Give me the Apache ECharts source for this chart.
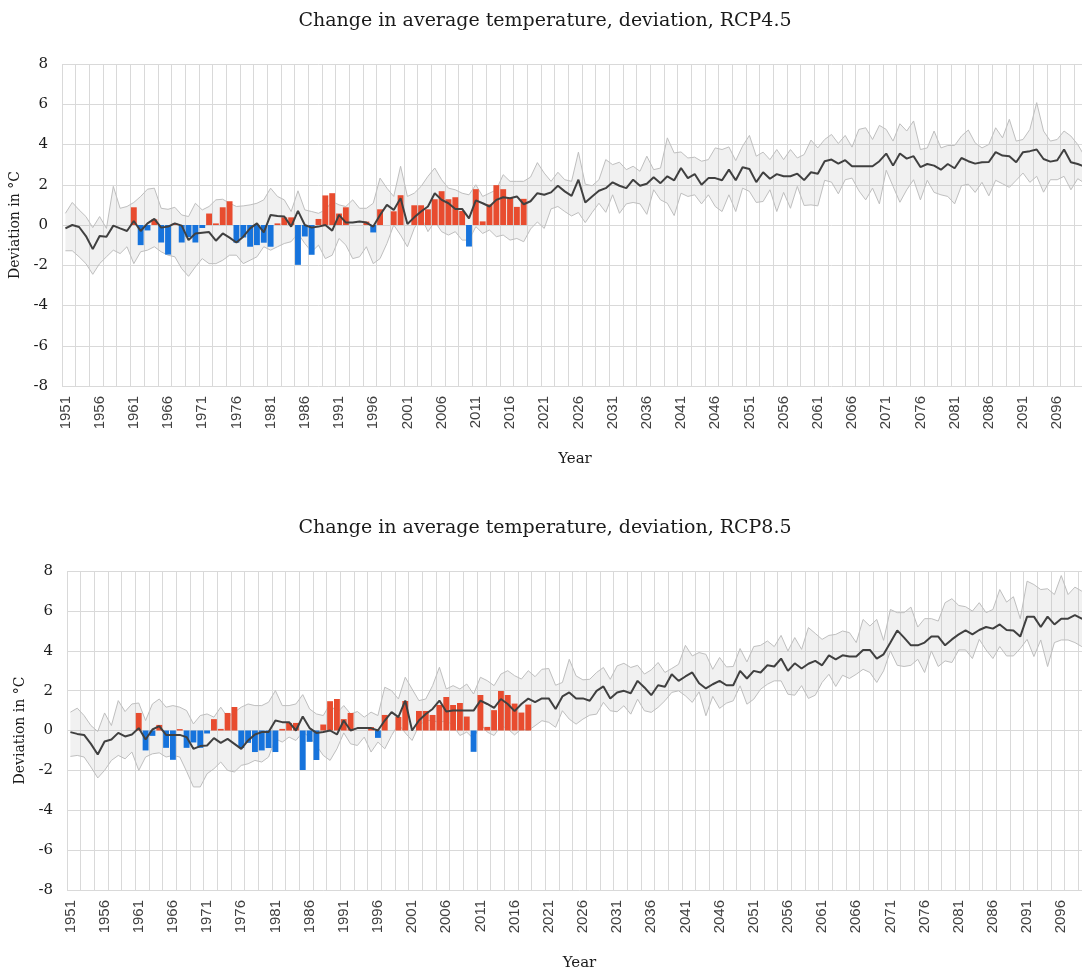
<!DOCTYPE html>
<html><head><meta charset="utf-8">
<script src="https://cdn.jsdelivr.net/npm/echarts@6/dist/echarts.min.js"></script>
<style>html,body{margin:0;padding:0;overflow:hidden;background:#fff}#c{width:1100px;height:972px}</style>
</head><body><div id="c"></div>
<script>
// Categories: years 1951..2100
const years = [];
for (let y = 1951; y <= 2100; y++) years.push(String(y));

// Observed deviation 1961..2018
const observedStart = 1961;
const observed = [0.88,-1.0,-0.27,0.28,-0.87,-1.47,0.07,-0.87,-0.6,-0.87,
  -0.15,0.57,0.08,0.88,1.18,-0.88,-0.62,-1.08,-1.0,-0.88,
  -1.08,0.08,0.38,0.38,-1.98,-0.57,-1.48,0.3,1.47,1.58,
  0.57,0.88,0,0,0.17,-0.37,0.78,0,0.68,1.48,
  0,0.98,0.98,0.78,1.28,1.68,1.28,1.38,0.7,-1.07,
  1.78,0.18,1.02,1.98,1.78,1.35,0.9,1.3];

// RCP4.5 model median, max, min (1951..2100)
const rcp45Mean = [-0.17,0,-0.1,-0.55,-1.2,-0.55,-0.58,-0.03,-0.17,-0.3,
  0.2,-0.3,0.08,0.3,-0.13,-0.08,0.08,-0.03,-0.75,-0.42,
  -0.38,-0.35,-0.78,-0.42,-0.63,-0.87,-0.58,-0.17,0.08,-0.37,
  0.5,0.45,0.42,-0.08,0.7,0,-0.13,-0.08,0,-0.28,
  0.5,0.12,0.12,0.17,0.12,-0.08,0.5,1.0,0.75,1.33,
  0.05,0.38,0.67,0.92,1.58,1.25,1.08,0.8,0.8,0.33,
  1.22,1.08,0.92,1.25,1.38,1.33,1.42,1.03,1.18,1.58,
  1.5,1.62,1.95,1.67,1.45,2.25,1.12,1.42,1.7,1.83,
  2.12,1.95,1.83,2.25,1.95,2.05,2.37,2.08,2.42,2.22,
  2.83,2.33,2.53,2.0,2.33,2.33,2.22,2.75,2.22,2.87,
  2.78,2.13,2.62,2.3,2.53,2.42,2.42,2.55,2.23,2.62,
  2.55,3.17,3.25,3.05,3.22,2.92,2.92,2.92,2.92,3.17,
  3.55,2.95,3.55,3.3,3.42,2.88,3.03,2.95,2.75,3.03,
  2.82,3.33,3.17,3.05,3.12,3.13,3.62,3.45,3.42,3.12,
  3.62,3.67,3.75,3.28,3.15,3.22,3.75,3.12,3.03,2.9];
const rcp45Max = [0.58,1.12,0.75,0.42,-0.13,0.42,-0.17,1.92,0.83,0.92,
  1.12,1.42,1.78,1.83,0.83,0.78,0.88,0.5,0.42,1.08,
  0.75,0.92,1.25,1.28,1.08,0.92,0.95,1.0,1.08,1.25,
  1.83,1.42,1.25,0.67,1.7,0.75,0.67,0.58,0.75,1.17,
  1.0,0.92,1.25,0.83,0.83,1.08,2.33,1.83,1.42,2.92,
  1.42,1.58,1.92,2.42,2.83,2.25,1.83,1.75,1.58,1.5,
  2.0,1.42,1.58,1.75,2.5,2.17,2.17,2.17,2.38,3.1,
  2.58,2.17,2.62,2.25,2.17,3.62,2.03,1.95,2.25,3.25,
  3.0,3.12,2.75,2.92,2.67,3.42,2.75,2.83,4.33,3.58,
  3.63,3.33,3.37,3.17,3.25,3.83,3.75,3.88,3.2,3.92,
  4.45,3.42,3.62,3.25,3.75,3.25,3.75,3.33,3.5,4.22,
  3.83,4.25,4.5,4.05,4.45,3.87,4.75,4.83,4.25,4.95,
  4.75,4.17,5.03,4.67,5.17,3.75,3.83,4.67,3.83,3.95,
  3.95,4.42,4.72,4.08,3.83,4.0,4.83,4.33,5.25,4.17,
  4.25,4.75,6.08,4.67,4.17,4.25,4.67,4.42,4.0,3.42];
const rcp45Min = [-1.28,-1.28,-1.58,-1.92,-2.45,-1.92,-1.58,-1.25,-1.42,-1.08,
  -1.92,-1.33,-1.25,-1.08,-1.33,-1.5,-1.58,-2.17,-2.55,-2.08,
  -1.67,-1.92,-1.92,-1.75,-1.5,-1.5,-1.92,-1.75,-1.58,-1.08,
  -1.25,-1.08,-0.92,-0.83,-0.42,-0.92,-1.33,-1.0,-1.67,-1.5,
  -0.67,-1.0,-1.67,-1.58,-1.08,-1.92,-1.67,-0.92,0,-0.5,
  -1.08,-0.17,0.42,-0.33,0.17,-0.33,-0.5,-0.33,-0.75,-0.75,
  -0.08,-0.42,-0.25,-0.58,-0.5,-0.75,-0.67,-0.83,-0.2,0.15,
  -0.17,0.8,0.92,0.67,0.45,0.62,0.12,0.62,1.08,0.63,
  1.5,0.58,1.05,1.12,1.05,0.53,1.75,1.25,1.08,0.47,
  1.58,1.42,1.5,1.05,1.5,0.92,0.67,1.5,0.67,1.83,
  1.67,1.12,1.17,1.75,0.67,1.62,0.83,1.92,0.97,1.0,
  0.95,2.22,2.13,1.55,2.25,2.33,1.7,1.25,1.83,1.05,
  2.72,1.92,1.13,1.75,2.25,1.25,2.22,1.62,1.5,1.42,
  1.05,1.95,2.03,1.62,2.12,1.45,2.22,2.05,1.87,2.22,
  2.58,2.12,2.42,1.63,2.25,2.25,2.42,1.75,2.3,2.08];

// RCP8.5 model median, max, min (1951..2100)
const rcp85Mean = [-0.08,-0.17,-0.22,-0.67,-1.2,-0.55,-0.45,-0.12,-0.3,-0.2,
  0.12,-0.45,0.05,0.22,-0.22,-0.22,-0.22,-0.33,-0.92,-0.78,
  -0.75,-0.38,-0.62,-0.42,-0.67,-0.92,-0.5,-0.2,-0.08,-0.08,
  0.5,0.42,0.42,0,0.7,0.12,-0.12,-0.08,0,-0.2,
  0.5,0,0.12,0.12,0.12,0,0.5,0.92,0.67,1.5,
  0,0.5,0.83,1.08,1.5,0.95,1.0,1.0,1.0,1.0,
  1.5,1.33,1.13,1.58,1.33,0.97,1.33,1.6,1.42,1.61,
  1.61,1.08,1.71,1.91,1.61,1.61,1.49,1.99,2.21,1.61,
  1.91,1.99,1.87,2.49,2.16,1.77,2.27,2.19,2.82,2.49,
  2.71,2.91,2.37,2.11,2.32,2.49,2.27,2.27,2.99,2.61,
  2.99,2.91,3.27,3.21,3.61,2.99,3.37,3.11,3.35,3.49,
  3.27,3.77,3.57,3.77,3.71,3.71,4.04,4.04,3.61,3.82,
  4.41,5.02,4.66,4.27,4.27,4.41,4.71,4.71,4.27,4.57,
  4.82,5.02,4.82,5.04,5.19,5.11,5.32,5.04,5.02,4.71,
  5.71,5.71,5.19,5.71,5.32,5.61,5.61,5.79,5.61,5.5];
const rcp85Max = [0.92,1.12,0.75,0.25,-0.05,0.88,0.25,1.5,0.95,1.33,
  1.38,0.5,1.33,1.58,1.17,1.25,1.17,1.0,0.33,0.75,
  0.83,0.67,1.17,0.67,0.92,1.17,1.33,1.25,1.25,1.42,
  2.0,1.25,1.25,1.33,1.8,1.08,0.83,0.75,1.33,0.88,
  1.25,0.83,0.95,0.67,0.92,0.75,2.17,2.0,1.58,2.67,
  2.08,1.5,1.58,2.25,3.17,2.08,2.25,2.08,2.33,1.83,
  2.67,2.5,2.25,2.83,3.0,2.75,2.58,3.0,2.7,3.07,
  3.11,2.27,2.41,3.57,2.74,2.54,2.57,2.91,3.16,2.57,
  3.24,3.37,3.16,3.27,2.83,3.04,3.41,2.91,3.11,3.32,
  4.27,3.74,3.91,3.82,3.07,3.66,3.19,3.21,4.11,3.44,
  4.21,4.27,4.49,4.21,4.77,3.99,4.66,4.07,5.16,4.87,
  4.57,4.77,4.82,4.99,4.91,4.41,5.57,5.24,5.57,4.52,
  6.07,5.91,5.91,6.19,5.19,5.61,5.61,5.49,6.41,6.61,
  6.27,6.21,5.99,6.41,5.91,6.07,7.07,6.44,6.71,5.61,
  7.49,7.32,7.07,7.11,6.82,7.77,6.82,7.19,6.99,6.9];
const rcp85Min = [-1.3,-1.25,-1.33,-1.83,-2.38,-2.0,-1.5,-1.25,-1.42,-1.08,
  -2.0,-1.33,-1.17,-1.12,-1.33,-1.25,-1.33,-2.05,-2.83,-2.83,
  -2.17,-1.92,-1.58,-2.0,-2.08,-1.75,-1.67,-1.5,-1.58,-1.33,
  -0.42,-0.58,-0.33,-0.5,-0.08,-0.33,-0.75,-1.25,-1.5,-0.92,
  -0.12,-0.67,-0.75,-0.33,-1.08,-0.58,-0.92,-0.25,0.33,-0.12,
  -0.5,0.25,0.5,0.5,0.4,0.5,0.25,-0.25,-0.08,-0.42,
  0.33,-0.08,-0.25,0.25,0.08,-0.22,0.08,0.0,0.24,0.49,
  0.41,0.16,0.99,0.57,0.32,0.57,0.77,0.82,1.41,0.99,
  0.94,1.24,0.82,1.57,0.99,0.91,1.16,1.49,1.91,1.99,
  1.74,1.41,1.94,0.74,1.71,1.11,1.37,1.49,2.24,1.32,
  1.57,2.07,2.32,2.49,2.49,1.82,1.77,2.25,1.61,1.77,
  2.41,2.82,2.21,2.77,2.61,2.82,3.07,2.91,2.41,2.99,
  3.99,3.27,3.21,3.27,3.57,2.91,3.99,3.21,3.49,3.41,
  4.04,4.04,3.61,4.57,4.04,3.61,4.21,3.74,3.74,4.11,
  4.57,3.71,4.54,3.21,4.41,4.54,4.54,4.41,4.21,4.2];

const titles = ['Change in average temperature, deviation, RCP4.5',
                'Change in average temperature, deviation, RCP8.5'];
const yTicks = {min: -8, max: 8, step: 2};

// ---- build option ----
const observedData = years.map(y => {
  const k = +y - observedStart;
  return (k >= 0 && k < observed.length) ? observed[k] : null;
});
const serifFont = 'DejaVu Serif';
const sansFont = 'Liberation Sans';
const gridColor = '#d9d9d9';

const grids = [
  {left: 62, top: 64, width: 1026, height: 322},
  {left: 67, top: 571, width: 1025, height: 321}
];

function xAx(gi) {
  return {type: 'category', gridIndex: gi, data: years, boundaryGap: true,
    axisLine: {show: false}, axisTick: {show: false},
    axisLabel: {interval: 4, rotate: 90, margin: 10, fontFamily: sansFont, fontSize: 15, color: '#404040'},
    splitLine: {show: true, interval: 1, lineStyle: {color: gridColor, width: 1}},
    name: 'Year', nameLocation: 'middle', nameGap: 66,
    nameTextStyle: {fontFamily: serifFont, fontSize: 15, color: '#1a1a1a'}};
}
function yAx(gi) {
  return {type: 'value', gridIndex: gi, min: yTicks.min, max: yTicks.max, interval: yTicks.step,
    axisLine: {show: false}, axisTick: {show: false},
    axisLabel: {margin: 14, fontFamily: serifFont, fontSize: 15, color: '#1a1a1a'},
    splitLine: {show: true, lineStyle: {color: gridColor, width: 1}},
    name: 'Deviation in °C', nameLocation: 'middle', nameGap: 33,
    nameTextStyle: {fontFamily: serifFont, fontSize: 14, color: '#1a1a1a'}};
}
function seriesFor(gi, mean, mx, mn) {
  const stackId = 'band' + gi;
  const diff = mx.map((v, i) => +(v - mn[i]).toFixed(3));
  return [
    {type: 'line', xAxisIndex: gi, yAxisIndex: gi, data: mn, stack: stackId, stackStrategy: 'all',
      symbol: 'none', lineStyle: {color: '#bfbfbf', width: 1}, z: 1, silent: true},
    {type: 'line', xAxisIndex: gi, yAxisIndex: gi, data: diff, stack: stackId, stackStrategy: 'all',
      symbol: 'none', lineStyle: {color: '#bfbfbf', width: 1},
      areaStyle: {color: 'rgba(185,185,185,0.2)', opacity: 1}, z: 1, silent: true},
    {type: 'bar', xAxisIndex: gi, yAxisIndex: gi, data: observedData, barCategoryGap: '14%',
      itemStyle: {color: p => (p.value >= 0 ? '#e84c2f' : '#1673dc')}, z: 2},
    {type: 'line', xAxisIndex: gi, yAxisIndex: gi, data: mean, symbol: 'none',
      lineStyle: {color: '#404040', width: 2}, z: 3}
  ];
}

const option = {
  animation: false,
  backgroundColor: '#fff',
  title: [
    {text: titles[0], left: 540, top: 7, textAlign: 'center',
      textStyle: {fontFamily: serifFont, fontSize: 19, fontWeight: 'normal', color: '#1a1a1a'}},
    {text: titles[1], left: 540, top: 514, textAlign: 'center',
      textStyle: {fontFamily: serifFont, fontSize: 19, fontWeight: 'normal', color: '#1a1a1a'}}
  ],
  grid: grids,
  xAxis: [xAx(0), xAx(1)],
  yAxis: [yAx(0), yAx(1)],
  series: [].concat(seriesFor(0, rcp45Mean, rcp45Max, rcp45Min), seriesFor(1, rcp85Mean, rcp85Max, rcp85Min))
};
const chart = echarts.init(document.getElementById('c'), null, {renderer: 'canvas'});
chart.setOption(option);
</script>
</body></html>
